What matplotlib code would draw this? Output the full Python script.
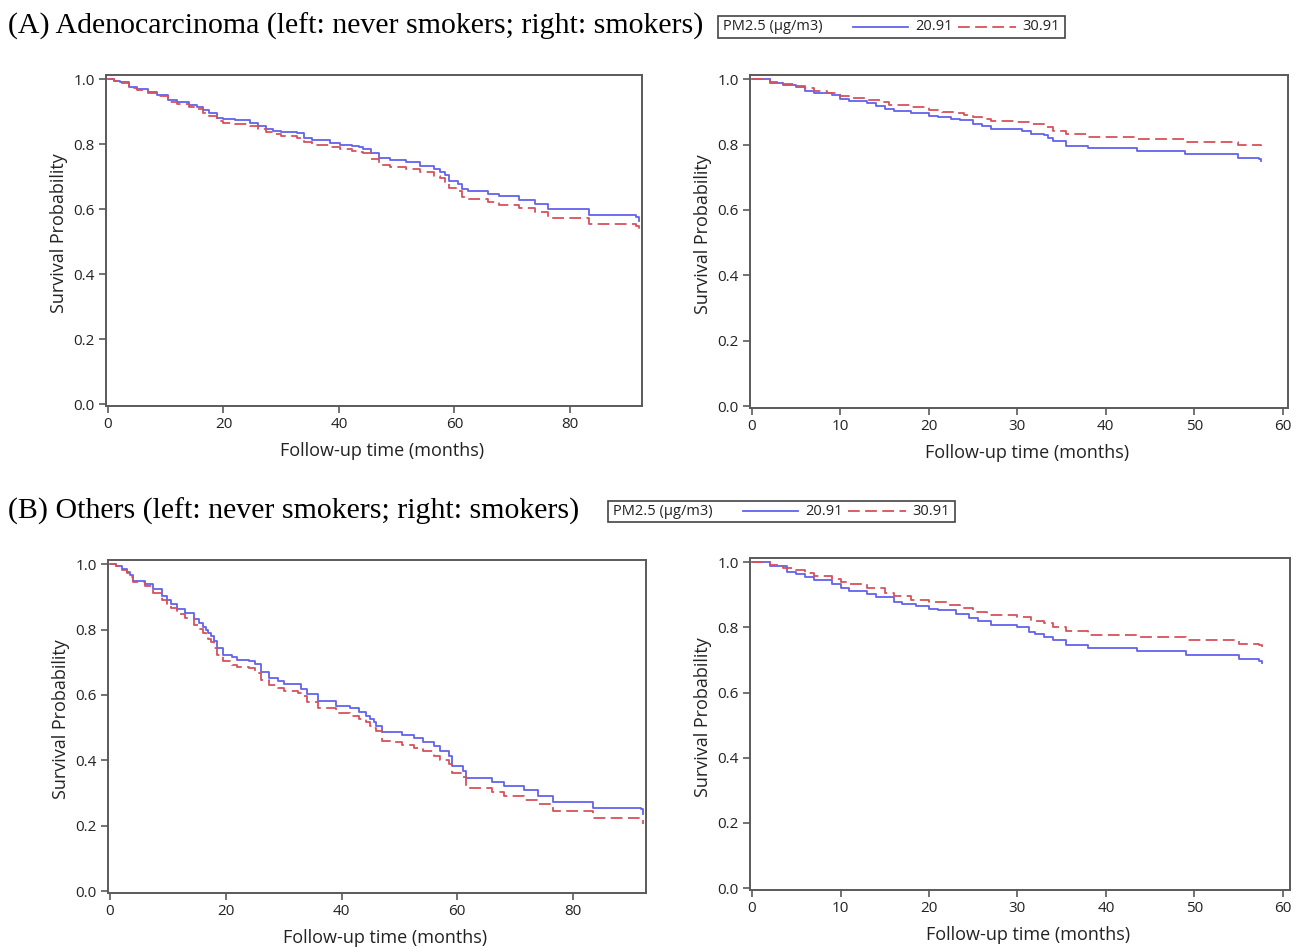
import matplotlib
matplotlib.use("Agg")
import matplotlib.pyplot as plt
from matplotlib.lines import Line2D
from matplotlib.patches import Rectangle

# ---------------- data ----------------
legend_title = "PM2.5 (µg/m3)"
series_labels = ["20.91", "30.91"]
panel_titles = ["(A) Adenocarcinoma (left: never smokers; right: smokers)",
                "(B) Others (left: never smokers; right: smokers)"]
xlabel = "Follow-up time (months)"
ylabel = "Survival Probability"
yticks = [0.0, 0.2, 0.4, 0.6, 0.8, 1.0]
xticks_left = [0, 20, 40, 60, 80]
xticks_right = [0, 10, 20, 30, 40, 50, 60]

# (A) adenocarcinoma, never smokers
a_ns_t_blue = [0, 1, 2, 3.6, 5, 7, 8.5, 10.4, 12, 14, 15.5, 16.5, 17.5, 18.9, 20, 22, 24.6, 26, 27.3, 28.5, 30,
               32.7, 34, 35.4, 38.4, 40.1, 42.2, 43.5, 44.2, 45.5, 46.9, 48.9, 51.6, 54, 56.4, 57.5, 58.4, 59,
               60.7, 61.4, 62.4, 65.8, 67.8, 71.2, 73.9, 76.3, 83.4, 91.5, 92]
a_ns_s_blue = [1.0, 0.995, 0.99, 0.976, 0.97, 0.96, 0.95, 0.935, 0.93, 0.922, 0.915, 0.905, 0.895, 0.882, 0.878,
               0.874, 0.866, 0.856, 0.846, 0.842, 0.838, 0.834, 0.82, 0.812, 0.805, 0.798, 0.795, 0.79, 0.785,
               0.772, 0.757, 0.752, 0.744, 0.734, 0.724, 0.715, 0.705, 0.688, 0.678, 0.662, 0.656, 0.647, 0.639,
               0.628, 0.616, 0.601, 0.583, 0.575, 0.565]
a_ns_t_red = [0, 1, 2, 3.6, 5, 7, 8.5, 10.4, 12, 14, 15.5, 16.5, 17.5, 18.9, 20, 22, 24.6, 26, 27.3, 28.5, 30,
              32.7, 34, 35.4, 38.4, 40.1, 42.2, 43.5, 44.2, 45.5, 46.9, 48.9, 51.6, 54, 56.4, 57.5, 58.4, 59,
              60.7, 61.4, 62.4, 65.8, 67.8, 71.2, 73.9, 76.3, 83.4, 91.5, 92]
a_ns_s_red = [1.0, 0.995, 0.988, 0.974, 0.967, 0.957, 0.947, 0.93, 0.925, 0.916, 0.907, 0.897, 0.888, 0.872, 0.866,
              0.862, 0.856, 0.846, 0.836, 0.832, 0.826, 0.82, 0.806, 0.798, 0.792, 0.784, 0.78, 0.775, 0.772,
              0.755, 0.735, 0.73, 0.723, 0.713, 0.703, 0.695, 0.685, 0.665, 0.655, 0.638, 0.632, 0.622, 0.614,
              0.604, 0.59, 0.574, 0.553, 0.548, 0.535]

# (A) adenocarcinoma, smokers
a_s_t_blue = [0, 2, 3.5, 5, 6, 7, 9, 10, 11, 13, 14, 15, 16, 18, 20, 21, 22.5, 23.5, 25, 26, 27, 29.5, 30.5, 31.5,
              33, 33.5, 34, 35.5, 38, 43.5, 49, 55, 57.3, 57.6]
a_s_s_blue = [1.0, 0.99, 0.982, 0.975, 0.965, 0.958, 0.951, 0.941, 0.934, 0.926, 0.918, 0.91, 0.903, 0.898, 0.888,
              0.884, 0.878, 0.875, 0.862, 0.857, 0.847, 0.847, 0.842, 0.832, 0.83, 0.82, 0.81, 0.797, 0.789, 0.781,
              0.771, 0.76, 0.757, 0.75]
a_s_t_red = [0, 2, 3.5, 5, 6, 7, 8.5, 10, 11, 13, 14.5, 15.5, 18, 20, 21.5, 23, 24, 25, 26, 27, 30, 31.5, 33, 34,
             35.5, 38, 43.5, 49, 55, 57.6]
a_s_s_red = [1.0, 0.992, 0.986, 0.98, 0.972, 0.964, 0.957, 0.949, 0.944, 0.937, 0.93, 0.922, 0.914, 0.905, 0.9,
             0.898, 0.892, 0.885, 0.879, 0.873, 0.868, 0.862, 0.854, 0.842, 0.832, 0.823, 0.816, 0.808, 0.798,
             0.797]

# (B) others, never smokers
b_ns_t_blue = [0, 1, 2, 3, 3.5, 4, 6, 7.5, 9, 9.8, 10.5, 11.5, 13, 14.5, 15.3, 16, 16.6, 17, 17.5, 18, 18.5, 19.5,
               21, 22, 24, 25, 26, 27.5, 29, 30, 32.5, 33, 34, 36, 39, 41.5, 43, 44.2, 45, 45.6, 46, 47, 49, 50.5,
               52.5, 54, 56, 57, 58.5, 59, 61, 61.5, 66, 68, 71.5, 74, 76.5, 83.5, 91.8, 92]
b_ns_s_blue = [1.0, 0.995, 0.985, 0.975, 0.966, 0.949, 0.939, 0.924, 0.903, 0.89, 0.878, 0.863, 0.852, 0.832,
               0.82, 0.807, 0.798, 0.79, 0.78, 0.765, 0.745, 0.722, 0.715, 0.707, 0.705, 0.695, 0.669, 0.651, 0.643,
               0.633, 0.633, 0.618, 0.602, 0.582, 0.567, 0.559, 0.547, 0.537, 0.526, 0.516, 0.506, 0.488, 0.486,
               0.476, 0.467, 0.457, 0.445, 0.43, 0.414, 0.383, 0.368, 0.345, 0.333, 0.321, 0.308, 0.29, 0.272,
               0.254, 0.25, 0.236]
b_ns_t_red = [0, 1, 2, 3, 3.5, 4, 6, 7.5, 9, 9.8, 10.5, 11.5, 13, 14.5, 15.3, 16, 16.6, 17, 17.5, 18, 18.5, 19.5,
              21, 22, 24, 25, 26, 27.5, 29, 30, 32.5, 33, 34, 36, 39, 41.5, 43, 44.2, 45, 45.6, 46, 47, 49, 50.5,
              52.5, 54, 56, 57, 58.5, 59, 61, 61.5, 66, 68, 71.5, 74, 76.5, 83.5, 91.8, 92]
b_ns_s_red = [1.0, 0.995, 0.983, 0.972, 0.962, 0.945, 0.932, 0.913, 0.89, 0.877, 0.866, 0.848, 0.835, 0.815,
              0.802, 0.79, 0.781, 0.772, 0.762, 0.745, 0.722, 0.703, 0.693, 0.686, 0.681, 0.668, 0.645, 0.63, 0.62,
              0.612, 0.606, 0.598, 0.58, 0.56, 0.545, 0.535, 0.526, 0.516, 0.506, 0.498, 0.49, 0.46, 0.456, 0.446,
              0.438, 0.43, 0.413, 0.402, 0.39, 0.36, 0.348, 0.315, 0.302, 0.292, 0.28, 0.265, 0.245, 0.225, 0.22,
              0.205]

# (B) others, smokers
b_s_t_blue = [0, 2, 4, 5, 6, 7, 9, 10, 11, 13, 14, 16, 17, 18.5, 20, 21, 23, 24.5, 25.5, 27, 30, 31.3, 32, 33,
              34, 35.5, 38, 43.5, 49, 55, 57.3, 57.6]
b_s_s_blue = [1.0, 0.988, 0.971, 0.963, 0.954, 0.947, 0.934, 0.92, 0.913, 0.903, 0.893, 0.878, 0.872, 0.865,
              0.857, 0.852, 0.842, 0.829, 0.821, 0.806, 0.801, 0.786, 0.78, 0.77, 0.76, 0.745, 0.738, 0.727, 0.714,
              0.702, 0.698, 0.69]
b_s_t_red = [0, 2, 3.5, 5, 6, 7, 9, 10, 11, 13, 15, 16, 18, 20, 22, 23.5, 25, 26.5, 30, 31.5, 33, 34, 35.5, 38,
             43.5, 49, 55, 57.3, 57.6]
b_s_s_red = [1.0, 0.99, 0.982, 0.975, 0.966, 0.958, 0.948, 0.94, 0.932, 0.92, 0.905, 0.895, 0.885, 0.877, 0.87,
             0.86, 0.847, 0.837, 0.832, 0.82, 0.812, 0.8, 0.788, 0.778, 0.77, 0.76, 0.748, 0.745, 0.738]

# ---------------- style ----------------
BLUE = "#6262EE"
RED = "#D8505A"
SPINE = "#5a5a5a"
SANS = ["Open Sans", "DejaVu Sans"]
SERIF = ["Liberation Serif", "DejaVu Serif"]
RED_DASH = (0, (6.5, 3.0))

W, H = 1299, 947
fig = plt.figure(figsize=(W / 100, H / 100), dpi=100)


def fx(px):
    return px / W


def fy(py):
    return 1 - py / H


def make_axes(left, right, top, bottom):
    return fig.add_axes([fx(left), fy(bottom), fx(right - left), fy(top) - fy(bottom)])


panels = [
    (make_axes(106, 642, 75, 406), (a_ns_t_blue, a_ns_s_blue, a_ns_t_red, a_ns_s_red), xticks_left, (-0.35, 92.5)),
    (make_axes(750, 1288, 75, 408), (a_s_t_blue, a_s_s_blue, a_s_t_red, a_s_s_red), xticks_right, (-0.23, 60.6)),
    (make_axes(108, 646, 560, 893), (b_ns_t_blue, b_ns_s_blue, b_ns_t_red, b_ns_s_red), xticks_left, (-0.35, 92.6)),
    (make_axes(750, 1290, 558, 890), (b_s_t_blue, b_s_s_blue, b_s_t_red, b_s_s_red), xticks_right, (-0.23, 60.8)),
]

for ax, (tb, sb, tr, sr), xt, xl in panels:
    ax.step(tb, sb, where="post", color=BLUE, lw=1.3)
    ax.step(tr, sr, where="post", color=RED, lw=1.3, linestyle=RED_DASH)
    ax.set_xlim(*xl)
    ax.set_ylim(-0.006, 1.013)
    ax.set_xticks(xt)
    ax.set_yticks(yticks)
    ax.set_yticklabels([f"{v:.1f}" for v in yticks])
    for sp in ax.spines.values():
        sp.set_color(SPINE)
        sp.set_linewidth(1.4)
    ax.tick_params(direction="out", length=5, width=1.2, color=SPINE, labelsize=11, pad=3,
                   labelcolor="#222222")
    for lab in ax.get_xticklabels() + ax.get_yticklabels():
        lab.set_family(SANS)
    ax.set_xlabel(xlabel, fontsize=13, family=SANS, color="#222222")
    ax.set_ylabel(ylabel, fontsize=13, family=SANS, color="#222222")
    ax.xaxis.set_label_coords(0.515, -0.108)
    ax.yaxis.set_label_coords(-0.071, 0.522)


def header(title, ty, box_left, box_top, box_bottom):
    fig.text(fx(8), fy(ty), title, family=SERIF, fontsize=21.5, va="center", ha="left", color="#000000")
    fig.add_artist(Rectangle((fx(box_left), fy(box_bottom)), fx(347), fy(box_top) - fy(box_bottom),
                             transform=fig.transFigure, fill=False, edgecolor="#444444", lw=1.2))
    cy = fy((box_top + box_bottom) / 2)
    fig.text(fx(box_left + 5), cy, legend_title, family=SANS, fontsize=10.5, va="center", ha="left",
             color="#222222")
    fig.add_artist(Line2D([fx(box_left + 135), fx(box_left + 190)], [cy, cy], transform=fig.transFigure,
                          color=BLUE, lw=1.3))
    fig.text(fx(box_left + 197), cy, series_labels[0], family=SANS, fontsize=10.5, va="center", ha="left",
             color="#222222")
    fig.add_artist(Line2D([fx(box_left + 240), fx(box_left + 298)], [cy, cy], transform=fig.transFigure,
                          color=RED, lw=1.3, linestyle=RED_DASH))
    fig.text(fx(box_left + 304), cy, series_labels[1], family=SANS, fontsize=10.5, va="center", ha="left",
             color="#222222")


header(panel_titles[0], 26, 718, 16, 38)
header(panel_titles[1], 511, 608, 501, 522)

fig.savefig("out.png", dpi=100, facecolor="white")
